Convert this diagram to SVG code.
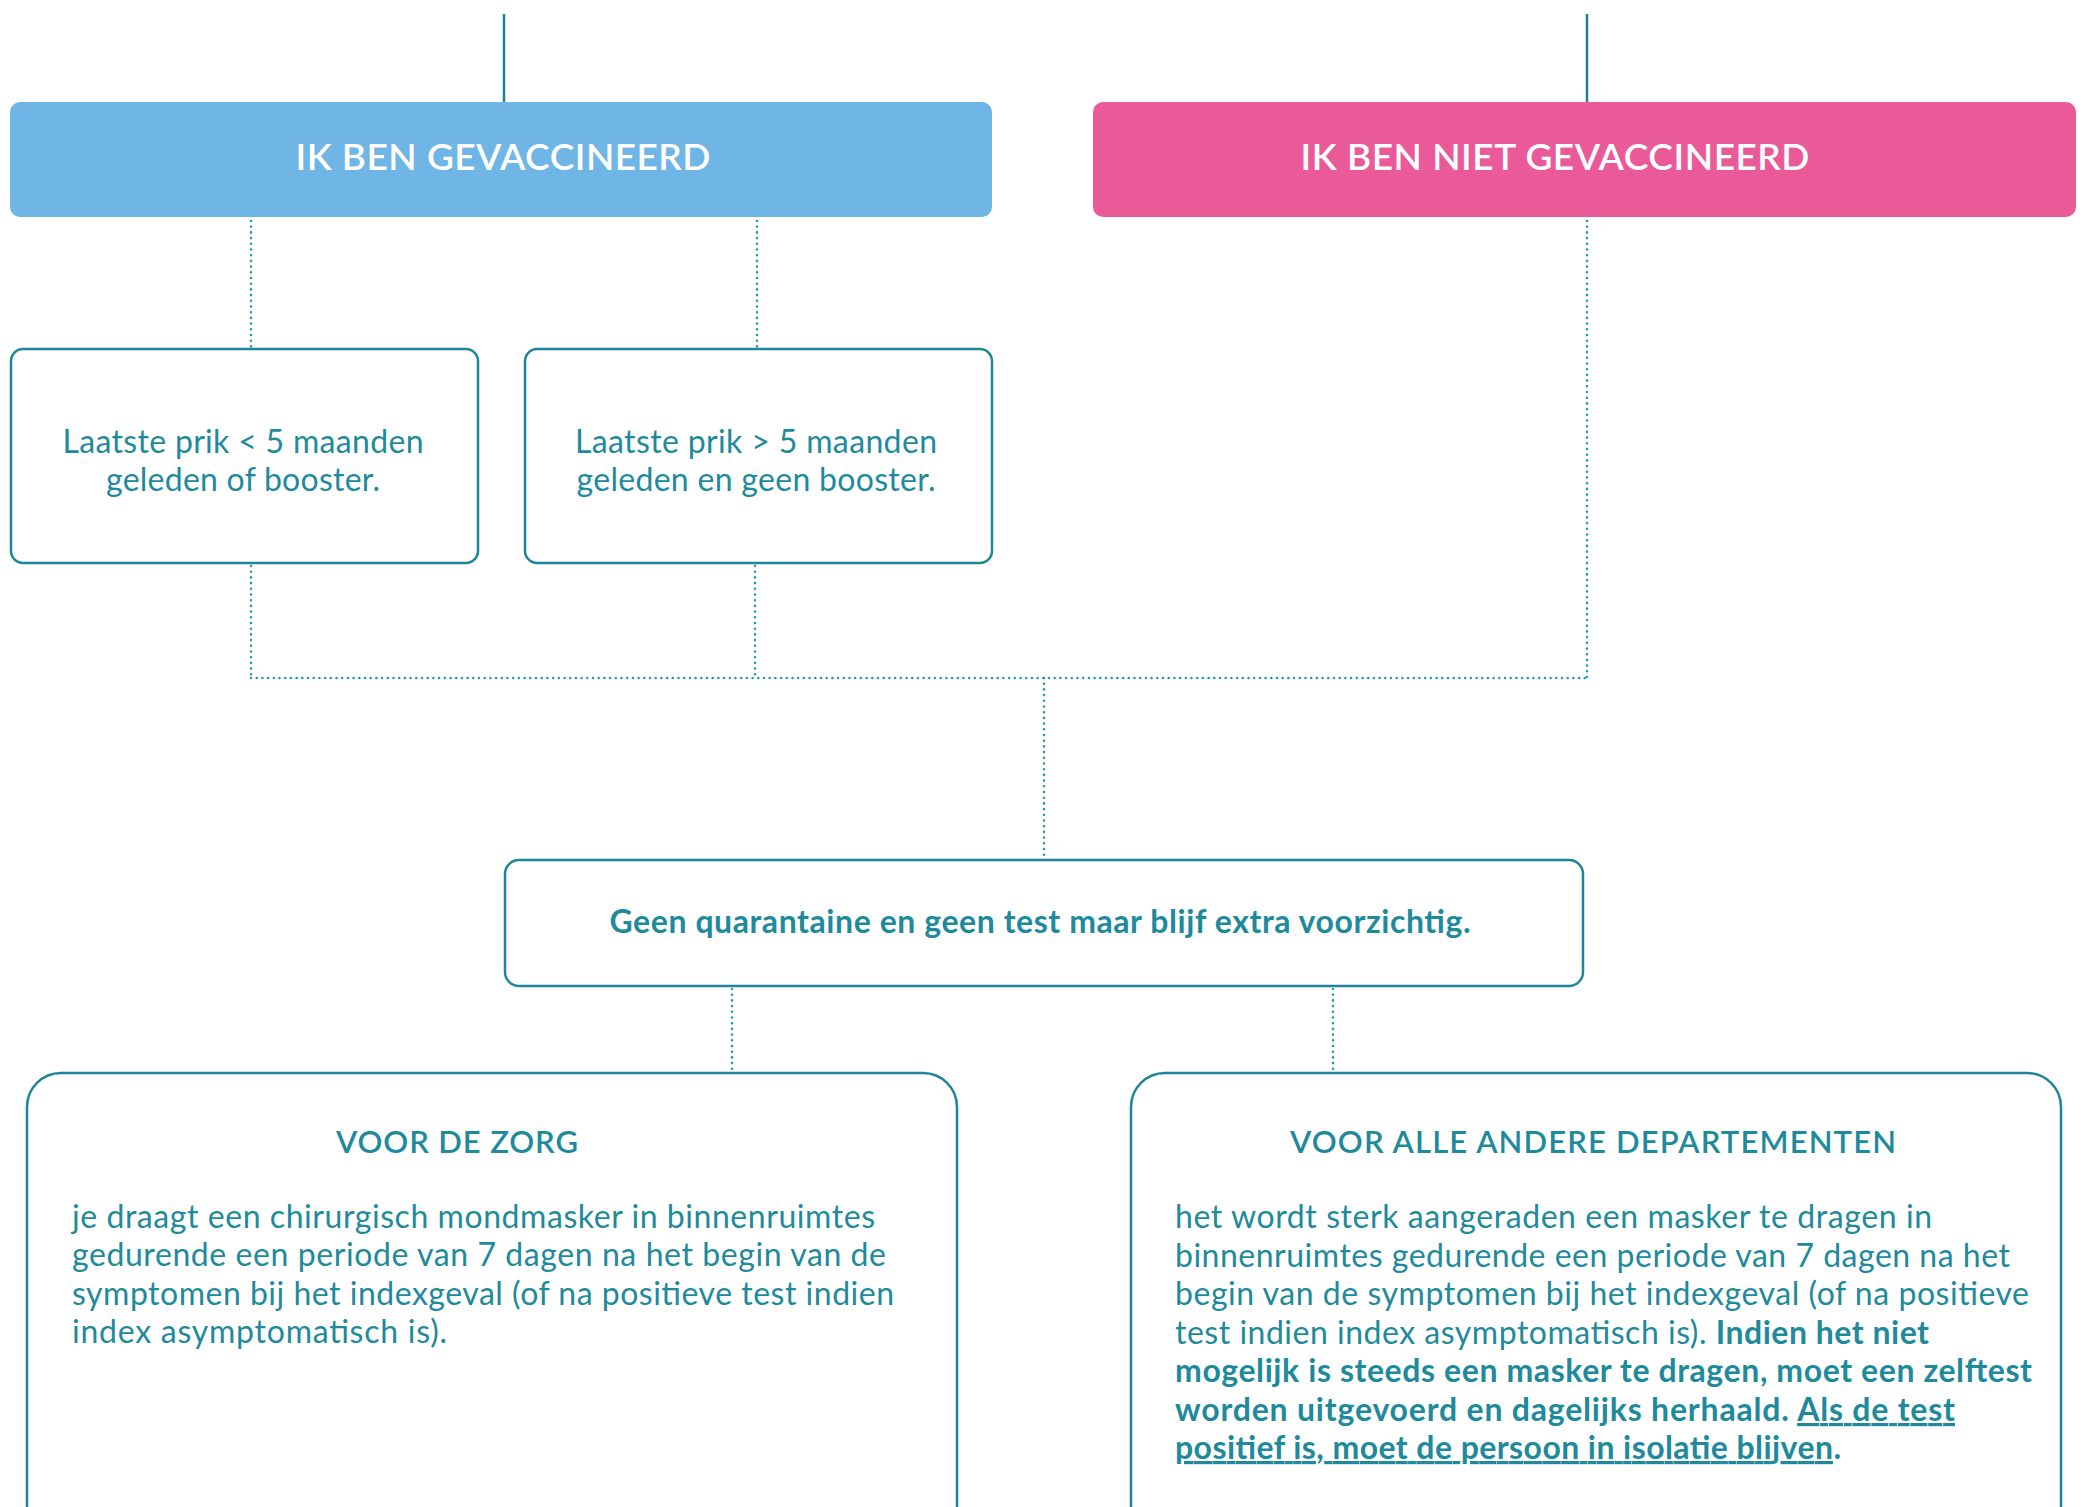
<svg xmlns="http://www.w3.org/2000/svg" width="2085" height="1507" viewBox="0 0 2085 1507">
<style>
text{font-family:Lato,"Open Sans","Liberation Sans",sans-serif;fill:#1e8a9c}
.hdr{fill:#ffffff;font-size:37px;font-weight:600;text-anchor:middle}
.box{fill:#ffffff;stroke:#1e869b;stroke-width:2.5}
.solid{stroke:#1e7f97;stroke-width:2.5;fill:none}
.dot{stroke:#2a97ae;stroke-width:2.6;fill:none;stroke-linecap:round;stroke-dasharray:0 5.7}
.mid{font-size:32px;text-anchor:middle}
.ttl{font-size:31px;font-weight:600;text-anchor:middle}
.body{font-size:32px}
.b{font-weight:700}
.u{text-decoration:underline}
</style>
<g id="connectors">
<line class="solid" x1="504" y1="14" x2="504" y2="102"/>
<line class="solid" x1="1587" y1="14" x2="1587" y2="102"/>
<line class="dot" x1="251" y1="221" x2="251" y2="347"/>
<line class="dot" x1="757" y1="221" x2="757" y2="347"/>
<line class="dot" x1="1587" y1="221" x2="1587" y2="678"/>
<line class="dot" x1="251" y1="566" x2="251" y2="678"/>
<line class="dot" x1="755" y1="566" x2="755" y2="678"/>
<line class="dot" x1="251" y1="678" x2="1587" y2="678"/>
<line class="dot" x1="1044" y1="678" x2="1044" y2="858"/>
<line class="dot" x1="732" y1="989" x2="732" y2="1072"/>
<line class="dot" x1="1333" y1="989" x2="1333" y2="1072"/>
</g>
<g id="node-gevaccineerd">
<rect x="10" y="102" width="982" height="115" rx="10" fill="#6fb6e6"/>
<text class="hdr" x="503" y="170" textLength="415">IK BEN GEVACCINEERD</text>
</g>
<g id="node-niet-gevaccineerd">
<rect x="1093" y="102" width="983" height="115" rx="10" fill="#eb5a98"/>
<text class="hdr" x="1555" y="170" textLength="509">IK BEN NIET GEVACCINEERD</text>
</g>
<g id="node-minder-5">
<rect class="box" x="11" y="349" width="467" height="214" rx="12"/>
<text class="mid" x="243" y="453" textLength="361">Laatste prik &lt; 5 maanden</text>
<text class="mid" x="243" y="491" textLength="274">geleden of booster.</text>
</g>
<g id="node-meer-5">
<rect class="box" x="525" y="349" width="467" height="214" rx="12"/>
<text class="mid" x="756" y="453" textLength="362">Laatste prik &gt; 5 maanden</text>
<text class="mid" x="756" y="491" textLength="359">geleden en geen booster.</text>
</g>
<g id="node-geen-quarantaine">
<rect class="box" x="505" y="860" width="1078" height="126" rx="14"/>
<text class="mid b" x="1040" y="933" textLength="861">Geen quarantaine en geen test maar blijf extra voorzichtig.</text>
</g>
<g id="node-zorg">
<path class="box" d="M27 1530 V1107 A34 34 0 0 1 61 1073 H923 A34 34 0 0 1 957 1107 V1530"/>
<text class="ttl" x="457" y="1153" textLength="242">VOOR DE ZORG</text>
<text class="body" x="72" y="1228" textLength="803">je draagt een chirurgisch mondmasker in binnenruimtes</text>
<text class="body" x="72" y="1266" textLength="814">gedurende een periode van 7 dagen na het begin van de</text>
<text class="body" x="72" y="1305" textLength="822">symptomen bij het indexgeval (of na positieve test indien</text>
<text class="body" x="72" y="1343" textLength="375">index asymptomatisch is).</text>
</g>
<g id="node-andere">
<path class="box" d="M1131 1530 V1107 A34 34 0 0 1 1165 1073 H2027 A34 34 0 0 1 2061 1107 V1530"/>
<text class="ttl" x="1593" y="1153" textLength="606">VOOR ALLE ANDERE DEPARTEMENTEN</text>
<text class="body" x="1175" y="1228" textLength="757">het wordt sterk aangeraden een masker te dragen in</text>
<text class="body" x="1175" y="1267" textLength="835">binnenruimtes gedurende een periode van 7 dagen na het</text>
<text class="body" x="1175" y="1305" textLength="854">begin van de symptomen bij het indexgeval (of na positieve</text>
<text class="body" x="1175" y="1344" textLength="754">test indien index asymptomatisch is). <tspan class="b">Indien het niet</tspan></text>
<text class="body b" x="1175" y="1382" textLength="857">mogelijk is steeds een masker te dragen, moet een zelftest</text>
<text class="body b" x="1175" y="1421" textLength="780">worden uitgevoerd en dagelijks herhaald. <tspan class="u">Als de test </tspan></text>
<text class="body b" x="1175" y="1459" textLength="666"><tspan class="u">positief is, moet de persoon in isolatie blijven</tspan>.</text>
</g>
</svg>
